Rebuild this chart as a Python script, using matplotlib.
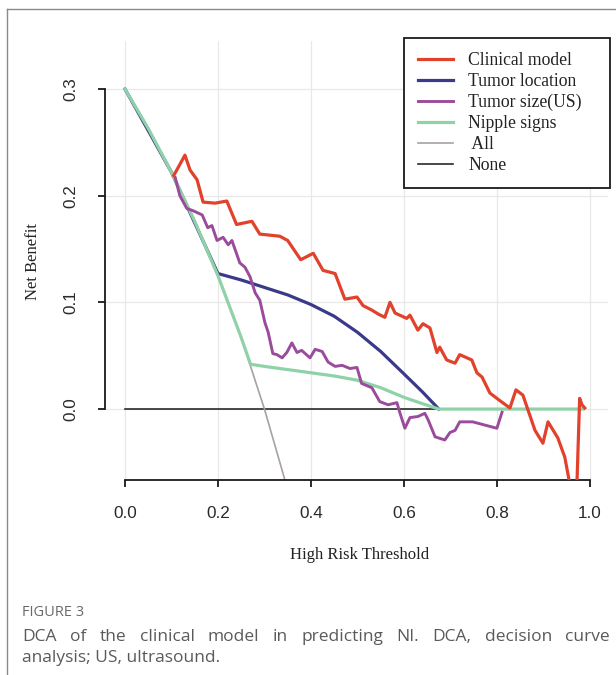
import numpy as np
import matplotlib.pyplot as plt
from matplotlib.lines import Line2D

# Decision curve values
all_t = [0, 0.05, 0.1, 0.15, 0.2, 0.25, 0.3, 0.345]
all_nb = [0.3, 0.263, 0.222, 0.176, 0.125, 0.067, 0.0, -0.068]

none_t = [0, 0.985]
none_nb = [0, 0]

nipple_t = [0, 0.05, 0.1, 0.15, 0.2, 0.25, 0.27, 0.3, 0.35, 0.4, 0.45, 0.5,
            0.55, 0.6, 0.64, 0.675, 0.985]
nipple_nb = [0.3, 0.263, 0.222, 0.176, 0.125, 0.067, 0.042, 0.040, 0.037, 0.034,
             0.031, 0.027, 0.020, 0.011, 0.005, 0.0, 0.0]

location_t = [0, 0.1, 0.2, 0.25, 0.3, 0.35, 0.4, 0.45, 0.5, 0.55, 0.6, 0.64, 0.675]
location_nb = [0.3, 0.222, 0.127, 0.121, 0.114, 0.107, 0.098, 0.087, 0.072,
               0.054, 0.033, 0.016, 0.0]

size_t = [0.108, 0.118, 0.133, 0.146, 0.166, 0.178, 0.187, 0.198, 0.211, 0.222,
          0.23, 0.247, 0.258, 0.269, 0.28, 0.29, 0.301, 0.308, 0.318, 0.327,
          0.338, 0.348, 0.359, 0.37, 0.38, 0.398, 0.409, 0.424, 0.437, 0.452,
          0.467, 0.484, 0.499, 0.509, 0.531, 0.548, 0.566, 0.585, 0.591, 0.602,
          0.613, 0.63, 0.645, 0.652, 0.667, 0.688, 0.699, 0.71, 0.72, 0.748,
          0.8, 0.811]
size_nb = [0.217, 0.200, 0.188, 0.186, 0.182, 0.170, 0.172, 0.158, 0.161, 0.154,
           0.158, 0.137, 0.133, 0.124, 0.109, 0.102, 0.081, 0.072, 0.052, 0.051,
           0.048, 0.053, 0.062, 0.053, 0.055, 0.048, 0.056, 0.054, 0.044, 0.040,
           0.041, 0.038, 0.039, 0.024, 0.020, 0.007, 0.004, 0.006, -0.003, -0.018,
           -0.008, -0.007, -0.004, -0.010, -0.026, -0.029, -0.022, -0.020, -0.012,
           -0.012, -0.018, -0.003]

clin_t = [0.105, 0.129, 0.14, 0.155, 0.168, 0.194, 0.219, 0.24, 0.273, 0.29,
          0.333, 0.35, 0.378, 0.405, 0.426, 0.452, 0.473, 0.499, 0.512, 0.53,
          0.545, 0.559, 0.57, 0.581, 0.606, 0.613, 0.63, 0.641, 0.656, 0.671,
          0.677, 0.692, 0.71, 0.72, 0.746, 0.757, 0.768, 0.785, 0.806, 0.828,
          0.841, 0.856, 0.867, 0.882, 0.899, 0.91, 0.931, 0.946, 0.955, 0.96,
          0.97, 0.978, 0.983, 0.989]
clin_nb = [0.219, 0.238, 0.224, 0.215, 0.194, 0.193, 0.195, 0.173, 0.176, 0.164,
           0.162, 0.158, 0.140, 0.146, 0.130, 0.127, 0.103, 0.105, 0.097, 0.093,
           0.089, 0.086, 0.100, 0.090, 0.085, 0.088, 0.074, 0.080, 0.076, 0.053,
           0.058, 0.046, 0.043, 0.051, 0.046, 0.034, 0.030, 0.015, 0.008, 0.001,
           0.018, 0.013, -0.001, -0.020, -0.032, -0.012, -0.027, -0.045, -0.066, -0.1,
           -0.1, 0.010, 0.004, 0.001]

x_ticks = [0.0, 0.2, 0.4, 0.6, 0.8, 1.0]
y_ticks = [0.0, 0.1, 0.2, 0.3]

caption_head = 'FIGURE 3'
caption_line1 = 'DCA of the clinical model in predicting NI. DCA, decision curve'
caption_line2 = 'analysis; US, ultrasound.'

W, H = 616, 675
fig = plt.figure(figsize=(W / 100, H / 100), dpi=100)
ax = fig.add_axes([105 / W, 1 - 480 / H, 503 / W, 439 / H])

serif = 'Liberation Serif'
sans = 'Liberation Sans'

l_none, = ax.plot(none_t, none_nb, color='#2a2a2a', lw=1.2, zorder=2)
l_all, = ax.plot(all_t, all_nb, color='#a9a1a1', lw=1.2, zorder=2)
l_loc, = ax.plot(location_t, location_nb, color='#3b3a8a', lw=2.3, zorder=3)
l_nip, = ax.plot(nipple_t, nipple_nb, color='#8fd2a7', lw=2.3, zorder=4)
l_size, = ax.plot(size_t, size_nb, color='#9a4b9c', lw=2.1, zorder=5)
l_clin, = ax.plot(clin_t, clin_nb, color='#e2412b', lw=2.3, zorder=6)

ax.set_xlim(-0.043, 1.039)
ax.set_ylim(-0.0665, 0.345)
ax.set_xticks(x_ticks)
ax.set_yticks(y_ticks)
ax.set_xticklabels([f'{v:.1f}' for v in x_ticks])
ax.set_yticklabels([f'{v:.1f}' for v in y_ticks])
ax.grid(True, color='#e8e8e8', lw=0.9)
ax.set_axisbelow(True)

for s in ['top', 'right']:
    ax.spines[s].set_visible(False)
ax.spines['left'].set_bounds(0, 0.3)
ax.spines['bottom'].set_bounds(0, 1)
for s in ['left', 'bottom']:
    ax.spines[s].set_linewidth(1.3)
    ax.spines[s].set_color('#1a1a1a')

ax.tick_params(direction='out', length=5, width=1.3, color='#1a1a1a',
               labelsize=12.3, labelcolor='#2a2a2a', pad=14)
for lab in ax.get_xticklabels() + ax.get_yticklabels():
    lab.set_family(sans)
for lab in ax.get_yticklabels():
    lab.set_rotation(90)
    lab.set_va('center')

fig.text(360 / W, 1 - 555 / H, 'High Risk Threshold', family=serif, size=12,
         ha='center', va='center', color='#222222')
fig.text(33 / W, 1 - 262 / H, 'Net Benefit', family=serif, size=12,
         rotation=90, ha='center', va='center', color='#222222')

leg = ax.legend([l_clin, l_loc, l_size, l_nip, l_all, l_none],
                ['Clinical model', 'Tumor location', 'Tumor size(US)',
                 'Nipple signs', ' All', 'None'],
                loc='upper left', mode='expand',
                bbox_to_anchor=(404 / W, 1 - 188 / H, 206 / W, 150 / H),
                bbox_transform=fig.transFigure, prop={'family': serif, 'size': 12.7},
                fancybox=False, edgecolor='#1a1a1a', framealpha=1,
                handlelength=1.95, handletextpad=0.9, labelspacing=0.22,
                borderpad=0.8, borderaxespad=0)
leg.get_frame().set_linewidth(1.3)
for t in leg.get_texts():
    t.set_color('#222222')

# page frame
fig.add_artist(Line2D([7 / W, 1], [1 - 9 / H, 1 - 9 / H], transform=fig.transFigure,
                      color='#8a8a8a', lw=1))
fig.add_artist(Line2D([7 / W, 7 / W], [1 - 9 / H, 0], transform=fig.transFigure,
                      color='#8a8a8a', lw=1))

# caption
cap = 'Open Sans'
fig.text(22 / W, 1 - 612 / H, caption_head, family=cap, size=10.5, color='#6a6a6a',
         va='center')

renderer = fig.canvas.get_renderer()
words = caption_line1.split()
texts = [fig.text(0, 1 - 637 / H, w, family=cap, size=12.5, color='#5a5a5a',
                  va='center') for w in words]
widths = [t.get_window_extent(renderer).width for t in texts]
gap = (588 - sum(widths)) / (len(words) - 1)
x = 22
for t, w in zip(texts, widths):
    t.set_x(x / W)
    x += w + gap
fig.text(22 / W, 1 - 658 / H, caption_line2, family=cap, size=12.5, color='#5a5a5a',
         va='center')

fig.savefig('out.png', dpi=100)
